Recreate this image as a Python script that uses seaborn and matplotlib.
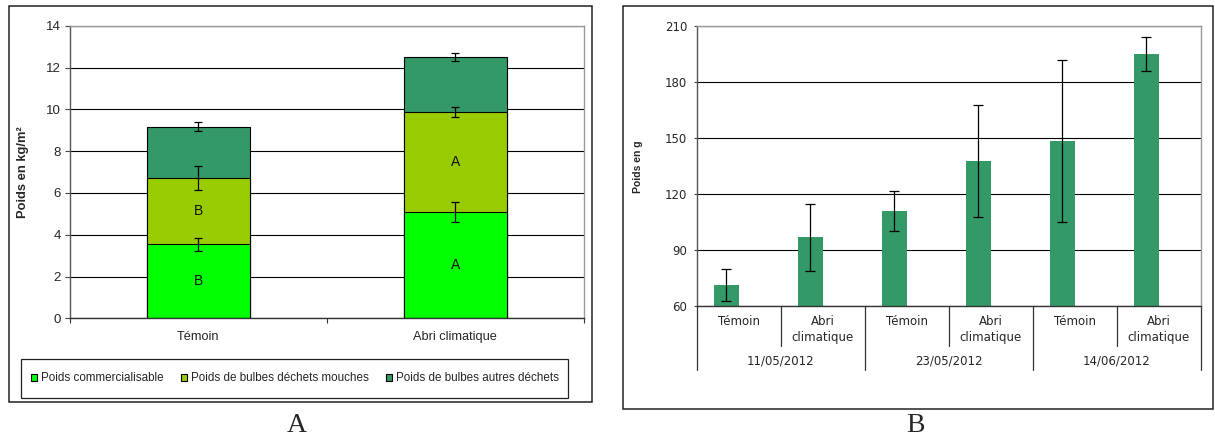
import matplotlib
matplotlib.use("Agg")
import matplotlib.pyplot as plt
import seaborn as sns
import numpy as np
import pandas as pd
from matplotlib.patches import Rectangle, Patch

# ---------------- Data: panel A ----------------
categories_A = ["Témoin", "Abri climatique"]
series_A = ["Poids commercialisable", "Poids de bulbes déchets mouches",
            "Poids de bulbes autres déchets"]
poids_commercialisable = [3.55, 5.09]
poids_dechets_mouches = [3.15, 4.77]
poids_autres_dechets = [2.47, 2.66]
err_commercialisable = [0.31, 0.46]
err_dechets_mouches = [0.57, 0.24]
err_autres_dechets = [0.21, 0.19]
lettres_commercialisable = ["B", "A"]
lettres_dechets_mouches = ["B", "A"]
yticks_A = [0, 2, 4, 6, 8, 10, 12, 14]

# ---------------- Data: panel B ----------------
dates_B = ["11/05/2012", "23/05/2012", "14/06/2012"]
traitements_B = ["Témoin", "Abri climatique"]
poids_g = [71.4, 97.0, 111.1, 137.9, 148.6, 195.2]
err_poids_g = [8.7, 18.0, 10.8, 29.8, 43.2, 9.2]
yticks_B = [60, 90, 120, 150, 180, 210]

colors_A = ["#00FF00", "#99CC00", "#339966"]
color_B = "#339966"

sns.set_theme(style="white")
plt.rcParams["font.family"] = ["Liberation Sans", "DejaVu Sans"]

W, H = 1215, 446
fig = plt.figure(figsize=(W / 100, H / 100), dpi=100)
fig.patch.set_facecolor("white")

def fx(px):
    return px / W

def fy(py):
    return 1 - py / H

# ---------------- Panel A ----------------
axA = fig.add_axes([fx(70), fy(318.3), fx(513.7), 292.6 / H])
dfA = pd.DataFrame({
    "categorie": categories_A,
    "c1": poids_commercialisable,
    "c2": np.add(poids_commercialisable, poids_dechets_mouches),
})
dfA["c3"] = dfA["c2"] + np.array(poids_autres_dechets)

for col, colr in zip(["c3", "c2", "c1"], colors_A[::-1]):
    sns.barplot(data=dfA, x="categorie", y=col, color=colr, saturation=1,
                width=0.4, edgecolor="black", linewidth=0.8, errorbar=None,
                ax=axA, order=categories_A)

xA = np.arange(len(categories_A))
for tops, errs in [(dfA["c1"], err_commercialisable),
                   (dfA["c2"], err_dechets_mouches),
                   (dfA["c3"], err_autres_dechets)]:
    axA.errorbar(xA, tops, yerr=errs, fmt="none", ecolor="black",
                 elinewidth=0.9, capsize=2.6, capthick=0.9, zorder=5)

for i in range(len(categories_A)):
    axA.text(xA[i], dfA["c1"][i] / 2, lettres_commercialisable[i],
             ha="center", va="center", fontsize=10, color="#111111", zorder=6)
    axA.text(xA[i], (dfA["c1"][i] + dfA["c2"][i]) / 2,
             lettres_dechets_mouches[i],
             ha="center", va="center", fontsize=10, color="#111111", zorder=6)

axA.set_ylim(0, 14)
axA.set_xlim(-0.5, len(categories_A) - 0.5)
axA.set_yticks(yticks_A)
axA.set_yticklabels([str(t) for t in yticks_A], fontsize=9.5)
axA.set_xticks(np.arange(-0.5, len(categories_A), 1.0))
axA.set_xticklabels([])
axA.set_xticks(xA, minor=True)
axA.set_xticklabels(categories_A, minor=True, fontsize=9.2)
axA.tick_params(axis="x", which="major", direction="out", length=3.5,
                width=0.8, color="#333333", bottom=True)
axA.tick_params(axis="x", which="minor", length=0, pad=9, bottom=True)
axA.tick_params(axis="y", direction="out", length=3.3, width=0.8,
                color="#444444", pad=3.4, left=True)
axA.set_xlabel("")
axA.set_ylabel("Poids en kg/m²", fontsize=9.3, fontweight="bold")
axA.yaxis.set_label_coords(-0.079, 0.5)
axA.set_axisbelow(True)
axA.yaxis.grid(True, color="black", linewidth=0.8)
axA.xaxis.grid(False)
for s in ["top", "right"]:
    axA.spines[s].set_color("#999999")
    axA.spines[s].set_linewidth(1.0)
axA.spines["left"].set_color("#555555")
axA.spines["left"].set_linewidth(1.0)
axA.spines["bottom"].set_color("#333333")
axA.spines["bottom"].set_linewidth(1.0)

handles = [Patch(facecolor=c, edgecolor="black", linewidth=0.8) for c in colors_A]
fig.legend(handles, series_A, loc="center", bbox_to_anchor=(fx(295), fy(378.4)),
           ncol=3, frameon=False, fontsize=8.4, handlelength=0.55,
           handleheight=0.55, handletextpad=0.35, columnspacing=1.45,
           borderpad=0.2)
fig.add_artist(Rectangle((fx(20.7), fy(397.7)), fx(547), 38.7 / H,
                         transform=fig.transFigure, fill=False,
                         edgecolor="#222222", linewidth=0.9))
fig.add_artist(Rectangle((fx(9), fy(401.7)), fx(582.7), 396 / H,
                         transform=fig.transFigure, fill=False,
                         edgecolor="#222222", linewidth=1.1))
fig.text(fx(296.7), fy(426), "A", ha="center", va="center",
         family="Liberation Serif", fontsize=20)

# ---------------- Panel B ----------------
axB = fig.add_axes([fx(697), fy(306.3), fx(503.7), 280 / H])
positions = [f"{d}|{t}" for d in dates_B for t in traitements_B]
dfB = pd.DataFrame({"position": positions, "serie": "Poids en g",
                    "poids": poids_g})
sns.barplot(data=dfB, x="position", y="poids", hue="serie",
            hue_order=["Poids en g", "_vide"],
            palette={"Poids en g": color_B, "_vide": color_B},
            order=positions, width=0.6, dodge=True, saturation=1, linewidth=0,
            errorbar=None, legend=False, ax=axB)

bars = [p for p in axB.patches if np.isfinite(p.get_height()) and p.get_height() > 0]
bars = sorted(bars, key=lambda p: p.get_x())
bx = [p.get_x() + p.get_width() / 2 for p in bars]
by = [p.get_height() for p in bars]
axB.errorbar(bx, by, yerr=err_poids_g, fmt="none", ecolor="black",
             elinewidth=0.9, capsize=3.6, capthick=0.9, zorder=5)

axB.set_ylim(60, 210)
axB.set_xlim(-0.5, len(positions) - 0.5)
axB.set_yticks(yticks_B)
axB.set_yticklabels([str(t) for t in yticks_B], fontsize=8.5,
                    family="DejaVu Sans")
axB.set_xticks([])
axB.set_xlabel("")
axB.set_ylabel("Poids en g", fontsize=7.5, fontweight="bold")
axB.yaxis.set_label_coords(-0.107, 0.5)
axB.tick_params(axis="y", direction="out", length=2.4, width=0.8,
                color="#444444", pad=4.8, left=True)
axB.set_axisbelow(True)
axB.yaxis.grid(True, color="black", linewidth=0.8)
axB.xaxis.grid(False)
for s in ["top", "right"]:
    axB.spines[s].set_color("#999999")
    axB.spines[s].set_linewidth(1.0)
axB.spines["left"].set_color("#555555")
axB.spines["left"].set_linewidth(1.0)
axB.spines["bottom"].set_color("#333333")
axB.spines["bottom"].set_linewidth(1.0)

trB = axB.get_xaxis_transform()
n_t = len(traitements_B)
for k in range(len(positions) + 1):
    xb = k - 0.5
    depth = 0.2275 if k % n_t == 0 else 0.1407
    axB.plot([xb, xb], [0, -depth], transform=trB, color="#333333",
             linewidth=0.9, clip_on=False)
for i, pos in enumerate(positions):
    t = pos.split("|")[1]
    lab = t.replace(" ", "\n")
    axB.text(i, -0.03, lab, transform=trB, ha="center", va="top",
             fontsize=8.5, family="DejaVu Sans", linespacing=1.3)
for g, d in enumerate(dates_B):
    axB.text(g * n_t + (n_t - 1) / 2, -0.1954, d, transform=trB,
             ha="center", va="center", fontsize=8.5, family="DejaVu Sans")

fig.add_artist(Rectangle((fx(622.7), fy(409)), fx(590.5), 403 / H,
                         transform=fig.transFigure, fill=False,
                         edgecolor="#222222", linewidth=1.1))
fig.text(fx(915.3), fy(426), "B", ha="center", va="center",
         family="Liberation Serif", fontsize=20)

fig.savefig("out.png", dpi=100, facecolor="white")
